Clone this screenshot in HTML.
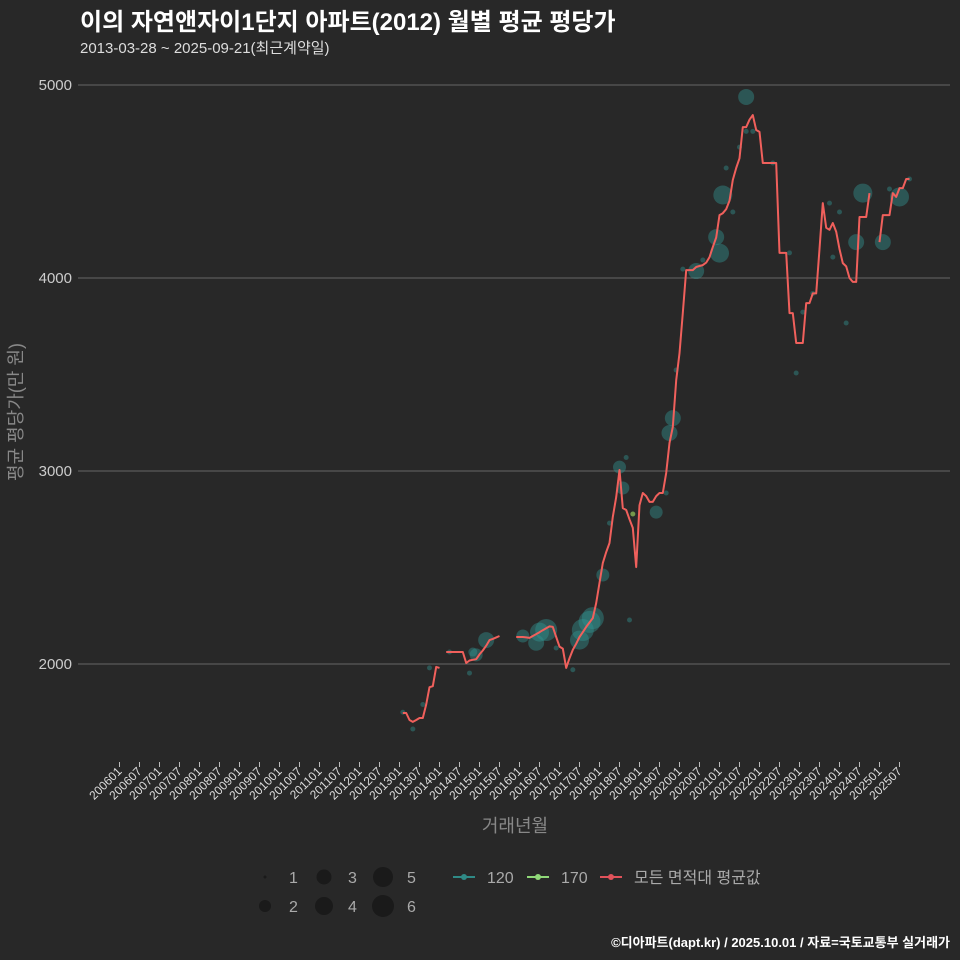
<!DOCTYPE html>
<html><head><meta charset="utf-8">
<style>
html,body{margin:0;padding:0;background:#282828;}
svg{display:block;font-family:"Liberation Sans","Noto Sans CJK KR",sans-serif;}
</style></head>
<body>
<svg id="chart" width="960" height="960" xmlns="http://www.w3.org/2000/svg">
<rect x="0" y="0" width="960" height="960" fill="#282828"/>
<text x="80" y="30" fill="#ffffff" font-size="24" font-weight="bold">이의 자연앤자이1단지 아파트(2012) 월별 평균 평당가</text>
<text x="80" y="53" fill="#dddddd" font-size="15">2013-03-28 ~ 2025-09-21(최근계약일)</text>
<g id="grid"></g>
<g id="yaxis"></g>
<g id="xaxis"></g>
<g id="bubbles"></g>
<g id="bubbles170"></g>
<g id="avgline"></g>
<text transform="translate(22,412) rotate(-90)" text-anchor="middle" fill="#888888" font-size="18">평균 평당가(만 원)</text>
<text x="515" y="832" text-anchor="middle" fill="#888888" font-size="18">거래년월</text>
<g id="legend"></g>
<text x="950" y="947" text-anchor="end" fill="#ffffff" font-size="13" font-weight="bold">©디아파트(dapt.kr) / 2025.10.01 / 자료=국토교통부 실거래가</text>
</svg>
<script>
const yTicks = [2000, 3000, 4000, 5000];
const lineMonths = [
"201302","201303","201304","201305","201306","201307","201308","201309","201310","201311","201312","201401",
"201403","201404","201405","201406","201407","201408","201409","201410","201411","201412","201501","201502","201503","201504","201505","201506","201507",
"201512","201601","201602","201603","201604","201605","201606","201607","201608","201609","201610","201611","201612",
"201701","201702","201703","201704","201705","201706","201707","201708","201709","201710","201711","201712",
"201801","201802","201803","201804","201805","201806","201807","201808","201809","201810","201811","201812",
"201901","201902","201903","201904","201905","201906","201907","201908","201909","201910","201911","201912",
"202001","202002","202003","202004","202005","202006","202007","202008","202009","202010","202011","202012",
"202101","202102","202103","202104","202105","202106","202107","202108","202109","202110","202111","202112",
"202201","202202","202203","202204","202205","202206","202207","202208","202209","202210","202211","202212",
"202301","202302","202303","202304","202305","202306","202307","202308","202309","202310","202311","202312",
"202401","202402","202403","202404","202405","202406","202407","202408","202409","202410",
"202501","202502","202503","202504","202505","202506","202507","202508","202509","202510"];
const lineValues = [
1746,1746,1710,1700,1710,1720,1720,1790,1880,1885,1985,1980,
2062,2062,2062,2062,2062,2062,2005,2018,2022,2025,2050,2070,2095,2124,2130,2138,2145,
2140,2140,2140,2138,2135,2145,2155,2165,2175,2185,2195,2192,2140,
2090,2080,1980,2030,2073,2105,2140,2165,2192,2215,2238,2316,
2420,2523,2580,2627,2762,2865,3005,2808,2798,2750,2705,2502,
2823,2886,2870,2840,2840,2870,2886,2886,2990,3145,3228,3470,
3610,3818,4041,4041,4041,4057,4062,4067,4080,4108,4160,4210,
4326,4336,4357,4400,4508,4570,4620,4782,4782,4820,4844,4767,
4757,4596,4596,4596,4596,4596,4130,4130,4130,3818,3818,3663,
3663,3663,3870,3870,3920,3920,4150,4388,4260,4250,4285,4240,
4150,4077,4060,4000,3980,3980,4316,4316,4316,4440,
4186,4326,4326,4326,4440,4420,4466,4466,4513,4513];
const bubbleMonths = ["201302","201305","201308","201310","201404","201410","201411","201412","201503",
"201602","201606","201607","201609","201612","201705","201707","201708","201710","201711",
"201802","201804","201807","201808","201809","201810",
"201906","201909","201910","201911","201912",
"202002","202006","202008","202012","202101","202102","202103","202105","202107","202109","202109","202111",
"202205","202210","202212","202302","202305","202310","202311","202401","202403","202406","202408",
"202502","202504","202507","202510"];
const bubbleValues = [1750,1663,1790,1980,2062,1953,2062,2047,2124,
2145,2110,2165,2176,2083,1970,2124,2176,2218,2238,
2461,2730,3020,2912,3070,2228,
2787,2886,3197,3274,3523,
4046,4036,4093,4212,4129,4430,4570,4342,4678,4760,4938,4760,
4596,4130,3508,3823,3920,4388,4108,4342,3767,4186,4440,
4186,4461,4420,4513];
const bubbleSizes = [1,1,1,1,1,1,2,3,4,
3,4,5,6,1,1,5,6,6,6,
3,1,3,3,1,1,
3,1,4,4,1,
1,4,1,4,5,5,1,1,1,1,4,1,
1,1,1,1,1,1,1,1,1,4,5,
4,1,5,1];
const greenMonths = ["201811"];
const greenValues = [2777];
const sizeRadii = [2.5,4.5,6.5,8,9.5,11];
const legendRadii = [1.5,6,7.5,9,10,11];

const NS = "http://www.w3.org/2000/svg";
function mk(tag, attrs, parent){const e=document.createElementNS(NS,tag);for(const k in attrs)e.setAttribute(k,attrs[k]);parent.appendChild(e);return e;}
function mIndex(s){return (parseInt(s.slice(0,4))-2006)*12+parseInt(s.slice(4,6))-1;}
function xS(s){return 119.5 + mIndex(s)*10/3;}
function yS(v){return 664 - (v-2000)*0.193;}

const grid=document.getElementById('grid'), yax=document.getElementById('yaxis');
yTicks.forEach(t=>{
  const l=mk('line',{x1:78,x2:950,y1:yS(t),y2:yS(t),stroke:'#666666','stroke-width':1},grid);
  
  
  const tx=mk('text',{x:72,y:yS(t)+5,'text-anchor':'end',fill:'#cccccc','font-size':15},yax);
  tx.textContent=t;
  
  
});
const xax=document.getElementById('xaxis');
const xTickLabels=[];
for(let y=2006;y<=2025;y++){xTickLabels.push(y+'01');xTickLabels.push(y+'07');}
xTickLabels.forEach(lab=>{
  const x=xS(lab);
  const tk=mk('line',{x1:x,x2:x,y1:762,y2:767,stroke:'#bbbbbb','stroke-width':1},xax);
  
  
  const t=mk('text',{transform:'translate('+(x+3)+',772) rotate(-45)','text-anchor':'end',fill:'#dddddd','font-size':12},xax);
  t.textContent=lab;
  
  
});
const bub=document.getElementById('bubbles');
bubbleMonths.forEach((m,i)=>{
  const c=mk('circle',{cx:xS(m),cy:yS(bubbleValues[i]),r:sizeRadii[bubbleSizes[i]-1],fill:'rgba(50,150,148,0.42)'},bub);
  
  
});
const bg=document.getElementById('bubbles170');
greenMonths.forEach((m,i)=>{
  const c=mk('circle',{cx:xS(m),cy:yS(greenValues[i]),r:2.5,fill:'rgba(150,200,90,0.7)'},bg);
  
  
});
const al=document.getElementById('avgline');
let segs=[],cur=[];
lineMonths.forEach((m,i)=>{
  if(i>0 && mIndex(m)!==mIndex(lineMonths[i-1])+1){segs.push(cur);cur=[];}
  cur.push([xS(m),yS(lineValues[i])]);
});
segs.push(cur);
segs.forEach(s=>{
  const p=mk('polyline',{points:s.map(q=>q[0].toFixed(1)+','+q[1].toFixed(1)).join(' '),fill:'none',stroke:'#f0605c','stroke-width':2,'stroke-linejoin':'round'},al);
  
  
});
const lg=document.getElementById('legend');
const sizeLegend=[[1,265,877],[2,265,906],[3,324,877],[4,324,906],[5,383,877],[6,383,906]];
sizeLegend.forEach(s=>{
  const c=mk('circle',{cx:s[1],cy:s[2],r:legendRadii[s[0]-1],fill:'#1a1a1a'},lg);
  
  
  const t=mk('text',{x:s[1]+24,y:s[2]+6,fill:'#aaaaaa','font-size':16},lg);
  t.textContent=s[0];
  
  
});
const lineLegend=[['120','#2f8a86',453],['170','#8fd878',527],['모든 면적대 평균값','#e0525a',600]];
lineLegend.forEach(l=>{
  const g=mk('g',{},lg);
  
  
  mk('line',{x1:l[2],x2:l[2]+22,y1:877,y2:877,stroke:l[1],'stroke-width':2},g);
  mk('circle',{cx:l[2]+11,cy:877,r:3,fill:l[1]},g);
  const t=mk('text',{x:l[2]+34,y:883,fill:'#aaaaaa','font-size':16},g);
  t.textContent=l[0];
});
</script>
</body></html>
